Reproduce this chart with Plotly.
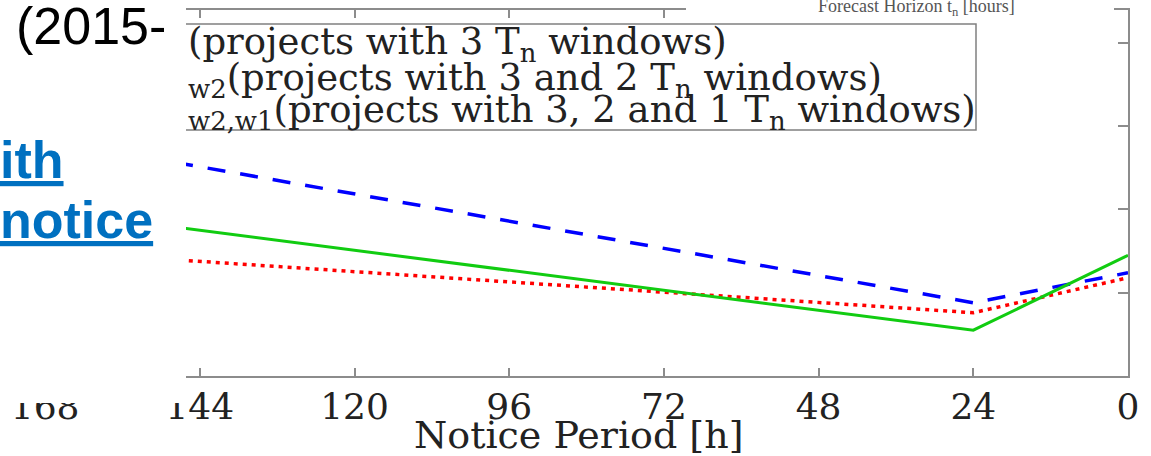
import plotly.graph_objects as go

W, H = 1151, 456
ML, MR, MT, MB = 0, 23, 10, 80
PW, PH = W - ML - MR, H - MT - MB

# ---- data ----
notice_hours = [168, 24, 0]
tick_vals = [168, 144, 120, 96, 72, 48, 24, 0]
tick_text = ["168", "144", "120", "96", "72", "48", "24", "0"]

series_names = ["T<sub>w3</sub>(projects with 3 T<sub>n</sub> windows)",
                "T<sub>w3,w2</sub>(projects with 3 and 2 T<sub>n</sub> windows)",
                "T<sub>w3,w2,w1</sub>(projects with 3, 2 and 1 T<sub>n</sub> windows)"]
blue_w3 = [2.84, 0.88, 1.24]
green_w3w2w1 = [1.99, 0.55, 1.45]
red_w3w2 = [1.50, 0.76, 1.18]

legend_lines = ["(projects with 3 T<sub>n</sub> windows)",
                "<sub>w2</sub>(projects with 3 and 2 T<sub>n</sub> windows)",
                "<sub>w2,w1</sub>(projects with 3, 2 and 1 T<sub>n</sub> windows)"]


def px(x):
    # figure pixel -> paper (plot-area) fraction
    return (x - ML) / PW


def py(y):
    return 1 - (y - MT) / PH


fig = go.Figure()
fig.add_trace(go.Scatter(x=notice_hours, y=blue_w3, mode="lines", name=series_names[0],
                         line=dict(color="#0000FF", width=3.5, dash="18px,15px")))
fig.add_trace(go.Scatter(x=notice_hours, y=red_w3w2, mode="lines", name=series_names[1],
                         line=dict(color="#FF0000", width=3.5, dash="4px,5px")))
fig.add_trace(go.Scatter(x=notice_hours, y=green_w3w2w1, mode="lines", name=series_names[2],
                         line=dict(color="#11CC11", width=3)))

axis_col = "#8c8c8c"
serif = "DejaVu Serif"

fig.update_layout(
    width=W, height=H,
    margin=dict(l=ML, r=MR, t=MT, b=MB),
    paper_bgcolor="white", plot_bgcolor="white",
    showlegend=False,
    xaxis=dict(range=[175, 0], tickvals=tick_vals, ticktext=tick_text,
               showgrid=False, zeroline=False, showline=True, linecolor=axis_col, linewidth=1.5,
               mirror="ticks", ticks="inside", ticklen=8, tickcolor=axis_col, tickwidth=1.5,
               tickfont=dict(family=serif, size=36, color="#222222"), automargin=False,
               ticklabelstandoff=-2),
    yaxis=dict(range=[0, 4.396], tickvals=[0, 1, 2, 3, 4], showticklabels=False,
               showgrid=False, zeroline=False, showline=True, linecolor=axis_col, linewidth=1.5,
               mirror="ticks", ticks="inside", ticklen=10, tickcolor=axis_col, tickwidth=1.5,
               automargin=False),
)

shapes = [
    # legend box (left part hidden by slide text box)
    dict(type="rect", xref="paper", yref="paper", x0=px(150), x1=px(976), y0=py(130), y1=py(24),
         fillcolor="white", line=dict(color="#808080", width=1.5), layer="above"),
    # slide text box covering the left of the chart
    dict(type="rect", xref="paper", yref="paper", x0=px(-5), x1=px(186), y0=py(403), y1=py(-5),
         fillcolor="white", line=dict(width=0), layer="above"),
    # label background of the upper chart covering the top border
    dict(type="rect", xref="paper", yref="paper", x0=px(686), x1=px(1114), y0=py(19), y1=py(-5),
         fillcolor="white", line=dict(width=0), layer="above"),
]
fig.update_layout(shapes=shapes)

ann = []
line_y = [44, 80, 112]
for t, yy in zip(legend_lines, line_y):
    ann.append(dict(text=t, xref="paper", yref="paper", x=px(186), y=py(yy),
                    xanchor="left", yanchor="middle", showarrow=False,
                    font=dict(family=serif, size=37, color="#222222")))
ann.append(dict(text="Notice Period [h]", xref="paper", yref="paper", x=px(578), y=py(435),
                xanchor="center", yanchor="middle", showarrow=False,
                font=dict(family=serif, size=38, color="#222222")))
ann.append(dict(text="Forecast Horizon t<sub>n</sub> [hours]", xref="paper", yref="paper",
                x=px(916), y=py(7), xanchor="center", yanchor="middle", showarrow=False,
                font=dict(family="Liberation Serif", size=18, color="#555555")))
ann.append(dict(text="(2015-", xref="paper", yref="paper", x=px(14), y=py(26),
                xanchor="left", yanchor="middle", showarrow=False,
                font=dict(family="Liberation Sans", size=52, color="black")))
ann.append(dict(text="<b>ith</b>", xref="paper", yref="paper", x=px(-2), y=py(160),
                xanchor="left", yanchor="middle", showarrow=False,
                font=dict(family="Liberation Sans", size=52, color="#0070C0", lineposition="under")))
ann.append(dict(text="<b>notice</b>", xref="paper", yref="paper", x=px(-2), y=py(220),
                xanchor="left", yanchor="middle", showarrow=False,
                font=dict(family="Liberation Sans", size=52, color="#0070C0", lineposition="under")))
fig.update_layout(annotations=ann)

fig.write_html("out.html")
